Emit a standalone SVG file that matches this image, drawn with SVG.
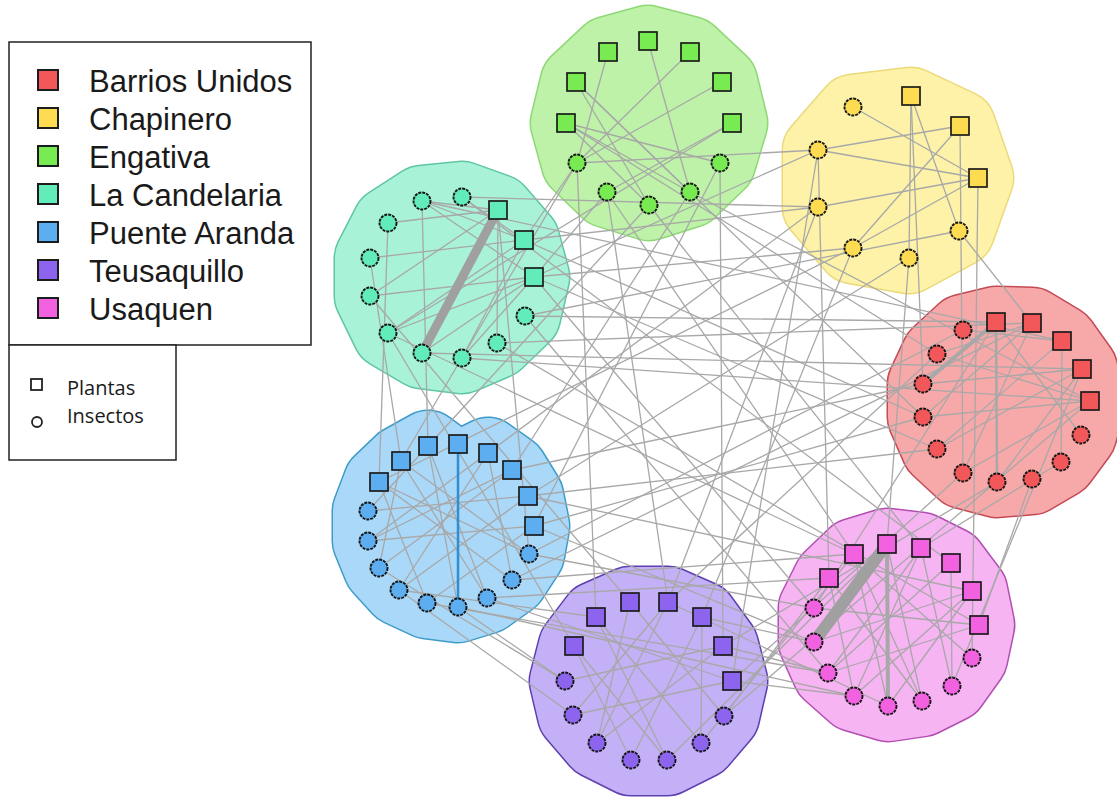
<svg xmlns="http://www.w3.org/2000/svg" width="1117" height="797" viewBox="0 0 1117 797">
<style>
.e{stroke:#a8a8a8;stroke-width:1.3;fill:none}
.hb{fill:none;stroke-width:73;stroke-linejoin:round}
.hf{stroke-width:70;stroke-linejoin:round}
.sq{stroke:#1c1c1c;stroke-width:1.7}
.ci{stroke:#151515;stroke-width:1.9;stroke-dasharray:3 1}
.red{fill:#f2585a}.yel{fill:#fddc52}.grn{fill:#78ea52}.tea{fill:#62ecba}.blu{fill:#5caef0}.pur{fill:#8c64ee}.pnk{fill:#f262e0}
.lg{font-family:"Liberation Sans",Arial,sans-serif;font-size:31px;fill:#1a1a1a}
.ls{font-family:"Open Sans","Liberation Sans",sans-serif;font-size:20px;fill:#1a1a1a}
.lsq{stroke:#1c1c1c;stroke-width:2}
</style>
<rect width="1117" height="797" fill="#ffffff"/>
<g id="hulls">
<g id="hull-engativa"><polygon class="hb" stroke="#8fd875" points="648,41 690,52 722,82 732,123 720,163 690,192 649,205 607,192 577,163 566,123 576,82 608,52"/><polygon class="hf" fill="#bdf2a8" stroke="#bdf2a8" points="648,41 690,52 722,82 732,123 720,163 690,192 649,205 607,192 577,163 566,123 576,82 608,52"/></g>
<g id="hull-chapinero"><polygon class="hb" stroke="#ecd97a" points="911,103 960,126 978,178 959,231 909,258 853,248 818,207 818,150 853,110"/><polygon class="hf" fill="#fdf2a8" stroke="#fdf2a8" points="911,103 960,126 978,178 959,231 909,258 853,248 818,207 818,150 853,110"/></g>
<g id="hull-candelaria"><polygon class="hb" stroke="#5fc6a4" points="422,201 462,197 498,210 524,240 534,277 525,316 497,343 462,358 422,353 388,333 370,296 370,258 388,223"/><polygon class="hf" fill="#a8f2d8" stroke="#a8f2d8" points="422,201 462,197 498,210 524,240 534,277 525,316 497,343 462,358 422,353 388,333 370,296 370,258 388,223"/></g>
<g id="hull-barrios"><polygon class="hb" stroke="#c44a55" points="996,322 1032,323 1062,341 1082,369 1090,401 1081,435 1061,462 1032,479 997,482 963,473 937,449 923,417 923,384 937,354 963,330"/><polygon class="hf" fill="#f7a9a9" stroke="#f7a9a9" points="996,322 1032,323 1062,341 1082,369 1090,401 1081,435 1061,462 1032,479 997,482 963,473 937,449 923,417 923,384 937,354 963,330"/></g>
<g id="hull-puente"><polygon class="hb" stroke="#3f9cc8" points="379,482 401,461 428,446 458,468 488,453 512,470 528,496 534,526 529,554 512,580 487,598 458,607 427,603 399,590 379,568 368,541 368,511"/><polygon class="hf" fill="#aad8f8" stroke="#aad8f8" points="379,482 401,461 428,446 458,468 488,453 512,470 528,496 534,526 529,554 512,580 487,598 458,607 427,603 399,590 379,568 368,541 368,511"/></g>
<g id="hull-usaquen"><polygon class="hb" stroke="#b14fb2" points="887,544 921,548 951,563 972,591 979,625 972,658 952,686 922,701 888,706 854,696 828,673 814,642 814,608 829,578 854,554"/><polygon class="hf" fill="#f6b4f2" stroke="#f6b4f2" points="887,544 921,548 951,563 972,591 979,625 972,658 952,686 922,701 888,706 854,696 828,673 814,642 814,608 829,578 854,554"/></g>
<g id="hull-teusaquillo"><polygon class="hb" stroke="#5e3fae" points="630,602 668,602 702,617 723,646 732,681 724,716 701,743 667,760 631,760 597,743 573,715 565,681 574,646 596,617"/><polygon class="hf" fill="#c4b0f6" stroke="#c4b0f6" points="630,602 668,602 702,617 723,646 732,681 724,716 701,743 667,760 631,760 597,743 573,715 565,681 574,646 596,617"/></g>
</g>
<g id="connectors">
<g class="e">
<line x1="577" y1="163" x2="818" y2="150"/>
<line x1="577" y1="163" x2="596" y2="617"/>
<line x1="720" y1="163" x2="723" y2="646"/>
<line x1="566" y1="123" x2="937" y2="354"/>
<line x1="732" y1="123" x2="388" y2="333"/>
<line x1="576" y1="82" x2="923" y2="417"/>
<line x1="607" y1="192" x2="854" y2="554"/>
<line x1="690" y1="192" x2="512" y2="470"/>
<line x1="649" y1="205" x2="921" y2="548"/>
<line x1="649" y1="205" x2="428" y2="446"/>
<line x1="577" y1="163" x2="401" y2="461"/>
<line x1="720" y1="163" x2="534" y2="526"/>
<line x1="690" y1="192" x2="1090" y2="401"/>
<line x1="607" y1="192" x2="668" y2="602"/>
<line x1="577" y1="163" x2="524" y2="240"/>
<line x1="607" y1="192" x2="534" y2="277"/>
<line x1="462" y1="197" x2="818" y2="207"/>
<line x1="818" y1="150" x2="829" y2="578"/>
<line x1="960" y1="126" x2="963" y2="473"/>
<line x1="818" y1="207" x2="488" y2="453"/>
<line x1="818" y1="207" x2="668" y2="602"/>
<line x1="853" y1="248" x2="702" y2="617"/>
<line x1="853" y1="248" x2="534" y2="277"/>
<line x1="909" y1="258" x2="887" y2="544"/>
<line x1="959" y1="231" x2="1032" y2="323"/>
<line x1="978" y1="178" x2="972" y2="658"/>
<line x1="959" y1="231" x2="525" y2="316"/>
<line x1="524" y1="240" x2="818" y2="207"/>
<line x1="534" y1="277" x2="818" y2="150"/>
<line x1="911" y1="96" x2="923" y2="384"/>
<line x1="909" y1="258" x2="528" y2="496"/>
<line x1="818" y1="150" x2="732" y2="681"/>
<line x1="853" y1="248" x2="379" y2="482"/>
<line x1="497" y1="343" x2="1032" y2="323"/>
<line x1="525" y1="316" x2="996" y2="322"/>
<line x1="422" y1="353" x2="1082" y2="369"/>
<line x1="462" y1="358" x2="1090" y2="401"/>
<line x1="388" y1="333" x2="854" y2="554"/>
<line x1="534" y1="277" x2="814" y2="608"/>
<line x1="370" y1="296" x2="630" y2="602"/>
<line x1="524" y1="240" x2="923" y2="417"/>
<line x1="422" y1="201" x2="428" y2="446"/>
<line x1="388" y1="223" x2="379" y2="482"/>
<line x1="370" y1="258" x2="401" y2="461"/>
<line x1="498" y1="210" x2="529" y2="554"/>
<line x1="388" y1="333" x2="574" y2="646"/>
<line x1="497" y1="343" x2="979" y2="625"/>
<line x1="534" y1="277" x2="937" y2="449"/>
<line x1="422" y1="201" x2="1062" y2="341"/>
<line x1="462" y1="197" x2="951" y2="563"/>
<line x1="525" y1="316" x2="828" y2="673"/>
<line x1="923" y1="417" x2="534" y2="526"/>
<line x1="937" y1="449" x2="528" y2="496"/>
<line x1="923" y1="384" x2="512" y2="470"/>
<line x1="963" y1="473" x2="732" y2="681"/>
<line x1="996" y1="322" x2="814" y2="608"/>
<line x1="1082" y1="369" x2="952" y2="686"/>
<line x1="937" y1="354" x2="668" y2="602"/>
<line x1="997" y1="482" x2="723" y2="646"/>
<line x1="1090" y1="401" x2="724" y2="716"/>
<line x1="1032" y1="479" x2="979" y2="625"/>
<line x1="963" y1="330" x2="529" y2="554"/>
<line x1="1032" y1="323" x2="512" y2="580"/>
<line x1="1061" y1="462" x2="921" y2="548"/>
<line x1="487" y1="598" x2="829" y2="578"/>
<line x1="512" y1="580" x2="854" y2="554"/>
<line x1="529" y1="554" x2="814" y2="608"/>
<line x1="427" y1="603" x2="828" y2="673"/>
<line x1="458" y1="607" x2="565" y2="681"/>
<line x1="399" y1="590" x2="596" y2="617"/>
<line x1="458" y1="607" x2="854" y2="696"/>
<line x1="534" y1="526" x2="814" y2="642"/>
<line x1="379" y1="568" x2="565" y2="681"/>
<line x1="399" y1="590" x2="573" y2="715"/>
<line x1="487" y1="598" x2="732" y2="681"/>
<line x1="528" y1="496" x2="972" y2="591"/>
<line x1="723" y1="646" x2="828" y2="673"/>
<line x1="732" y1="681" x2="854" y2="696"/>
<line x1="724" y1="716" x2="829" y2="578"/>
<line x1="701" y1="743" x2="854" y2="554"/>
<line x1="702" y1="617" x2="814" y2="642"/>
<line x1="667" y1="760" x2="887" y2="544"/>
<line x1="668" y1="602" x2="888" y2="706"/>
<line x1="608" y1="52" x2="577" y2="163"/>
<line x1="648" y1="41" x2="690" y2="192"/>
<line x1="690" y1="52" x2="577" y2="163"/>
<line x1="576" y1="82" x2="690" y2="192"/>
<line x1="722" y1="82" x2="577" y2="163"/>
<line x1="566" y1="123" x2="720" y2="163"/>
<line x1="566" y1="123" x2="690" y2="192"/>
<line x1="732" y1="123" x2="607" y2="192"/>
<line x1="576" y1="82" x2="649" y2="205"/>
<line x1="566" y1="123" x2="649" y2="205"/>
<line x1="911" y1="96" x2="909" y2="258"/>
<line x1="911" y1="96" x2="959" y2="231"/>
<line x1="960" y1="126" x2="818" y2="150"/>
<line x1="960" y1="126" x2="853" y2="248"/>
<line x1="978" y1="178" x2="818" y2="150"/>
<line x1="978" y1="178" x2="818" y2="207"/>
<line x1="978" y1="178" x2="853" y2="107"/>
<line x1="978" y1="178" x2="853" y2="248"/>
<line x1="498" y1="210" x2="422" y2="201"/>
<line x1="524" y1="240" x2="422" y2="201"/>
<line x1="534" y1="277" x2="422" y2="201"/>
<line x1="498" y1="210" x2="388" y2="223"/>
<line x1="524" y1="240" x2="370" y2="258"/>
<line x1="534" y1="277" x2="370" y2="296"/>
<line x1="524" y1="240" x2="388" y2="333"/>
<line x1="534" y1="277" x2="388" y2="333"/>
<line x1="498" y1="210" x2="497" y2="343"/>
<line x1="524" y1="240" x2="462" y2="358"/>
<line x1="534" y1="277" x2="422" y2="353"/>
<line x1="524" y1="240" x2="462" y2="197"/>
<line x1="498" y1="210" x2="370" y2="296"/>
<line x1="534" y1="277" x2="462" y2="358"/>
<line x1="1062" y1="341" x2="1061" y2="462"/>
<line x1="1032" y1="323" x2="937" y2="354"/>
<line x1="1032" y1="323" x2="923" y2="417"/>
<line x1="1082" y1="369" x2="923" y2="384"/>
<line x1="1082" y1="369" x2="937" y2="449"/>
<line x1="1090" y1="401" x2="923" y2="417"/>
<line x1="1090" y1="401" x2="963" y2="473"/>
<line x1="1062" y1="341" x2="963" y2="330"/>
<line x1="996" y1="322" x2="1081" y2="435"/>
<line x1="1082" y1="369" x2="997" y2="482"/>
<line x1="1090" y1="401" x2="937" y2="354"/>
<line x1="1032" y1="323" x2="963" y2="473"/>
<line x1="1062" y1="341" x2="937" y2="449"/>
<line x1="379" y1="482" x2="427" y2="603"/>
<line x1="379" y1="482" x2="512" y2="580"/>
<line x1="401" y1="461" x2="379" y2="568"/>
<line x1="401" y1="461" x2="529" y2="554"/>
<line x1="428" y1="446" x2="368" y2="511"/>
<line x1="428" y1="446" x2="487" y2="598"/>
<line x1="488" y1="453" x2="368" y2="541"/>
<line x1="488" y1="453" x2="399" y2="590"/>
<line x1="512" y1="470" x2="368" y2="541"/>
<line x1="512" y1="470" x2="379" y2="568"/>
<line x1="528" y1="496" x2="368" y2="511"/>
<line x1="528" y1="496" x2="399" y2="590"/>
<line x1="534" y1="526" x2="368" y2="541"/>
<line x1="534" y1="526" x2="427" y2="603"/>
<line x1="488" y1="453" x2="512" y2="580"/>
<line x1="401" y1="461" x2="487" y2="598"/>
<line x1="379" y1="482" x2="529" y2="554"/>
<line x1="428" y1="446" x2="458" y2="607"/>
<line x1="951" y1="563" x2="952" y2="686"/>
<line x1="829" y1="578" x2="854" y2="696"/>
<line x1="854" y1="554" x2="888" y2="706"/>
<line x1="854" y1="554" x2="922" y2="701"/>
<line x1="921" y1="548" x2="828" y2="673"/>
<line x1="921" y1="548" x2="854" y2="696"/>
<line x1="972" y1="591" x2="814" y2="642"/>
<line x1="972" y1="591" x2="854" y2="696"/>
<line x1="979" y1="625" x2="814" y2="608"/>
<line x1="979" y1="625" x2="828" y2="673"/>
<line x1="829" y1="578" x2="922" y2="701"/>
<line x1="921" y1="548" x2="952" y2="686"/>
<line x1="887" y1="544" x2="922" y2="701"/>
<line x1="951" y1="563" x2="828" y2="673"/>
<line x1="854" y1="554" x2="972" y2="658"/>
<line x1="972" y1="591" x2="888" y2="706"/>
<line x1="596" y1="617" x2="667" y2="760"/>
<line x1="574" y1="646" x2="631" y2="760"/>
<line x1="574" y1="646" x2="667" y2="760"/>
<line x1="630" y1="602" x2="597" y2="743"/>
<line x1="668" y1="602" x2="597" y2="743"/>
<line x1="668" y1="602" x2="573" y2="715"/>
<line x1="702" y1="617" x2="631" y2="760"/>
<line x1="702" y1="617" x2="701" y2="743"/>
<line x1="723" y1="646" x2="565" y2="681"/>
<line x1="732" y1="681" x2="573" y2="715"/>
<line x1="630" y1="602" x2="724" y2="716"/>
<line x1="723" y1="646" x2="597" y2="743"/>
<line x1="596" y1="617" x2="701" y2="743"/>
</g>
<line x1="996" y1="322" x2="997" y2="482" stroke="#a8a8a8" stroke-width="2.5"/>
<line x1="996" y1="322" x2="923" y2="384" stroke="#a8a8a8" stroke-width="4"/>
<line x1="887" y1="544" x2="888" y2="706" stroke="#a8a8a8" stroke-width="4"/>
<line x1="498" y1="210" x2="422" y2="353" stroke="#a0a0a0" stroke-width="9"/>
<line x1="814" y1="642" x2="887" y2="544" stroke="#a0a0a0" stroke-width="12"/>
<line x1="458" y1="444" x2="458" y2="607" stroke="#2f8fd2" stroke-width="2.5"/>
</g>
<g id="nodes">
<g id="Gs1"><rect class="sq grn" x="599" y="43" width="18" height="18"/></g>
<g id="Gs2"><rect class="sq grn" x="639" y="32" width="18" height="18"/></g>
<g id="Gs3"><rect class="sq grn" x="681" y="43" width="18" height="18"/></g>
<g id="Gs4"><rect class="sq grn" x="567" y="73" width="18" height="18"/></g>
<g id="Gs5"><rect class="sq grn" x="713" y="73" width="18" height="18"/></g>
<g id="Gs6"><rect class="sq grn" x="557" y="114" width="18" height="18"/></g>
<g id="Gs7"><rect class="sq grn" x="723" y="114" width="18" height="18"/></g>
<g id="Gc1"><circle class="ci grn" cx="577" cy="163" r="8.5"/></g>
<g id="Gc2"><circle class="ci grn" cx="720" cy="163" r="8.5"/></g>
<g id="Gc3"><circle class="ci grn" cx="607" cy="192" r="8.5"/></g>
<g id="Gc4"><circle class="ci grn" cx="690" cy="192" r="8.5"/></g>
<g id="Gc5"><circle class="ci grn" cx="649" cy="205" r="8.5"/></g>
<g id="Ys1"><rect class="sq yel" x="902" y="87" width="18" height="18"/></g>
<g id="Ys2"><rect class="sq yel" x="951" y="117" width="18" height="18"/></g>
<g id="Ys3"><rect class="sq yel" x="969" y="169" width="18" height="18"/></g>
<g id="Yc1"><circle class="ci yel" cx="853" cy="107" r="8.5"/></g>
<g id="Yc2"><circle class="ci yel" cx="818" cy="150" r="8.5"/></g>
<g id="Yc3"><circle class="ci yel" cx="818" cy="207" r="8.5"/></g>
<g id="Yc4"><circle class="ci yel" cx="853" cy="248" r="8.5"/></g>
<g id="Yc5"><circle class="ci yel" cx="909" cy="258" r="8.5"/></g>
<g id="Yc6"><circle class="ci yel" cx="959" cy="231" r="8.5"/></g>
<g id="Ts1"><rect class="sq tea" x="489" y="201" width="18" height="18"/></g>
<g id="Ts2"><rect class="sq tea" x="515" y="231" width="18" height="18"/></g>
<g id="Ts3"><rect class="sq tea" x="525" y="268" width="18" height="18"/></g>
<g id="Tc1"><circle class="ci tea" cx="422" cy="201" r="8.5"/></g>
<g id="Tc2"><circle class="ci tea" cx="462" cy="197" r="8.5"/></g>
<g id="Tc3"><circle class="ci tea" cx="388" cy="223" r="8.5"/></g>
<g id="Tc4"><circle class="ci tea" cx="370" cy="258" r="8.5"/></g>
<g id="Tc5"><circle class="ci tea" cx="370" cy="296" r="8.5"/></g>
<g id="Tc6"><circle class="ci tea" cx="388" cy="333" r="8.5"/></g>
<g id="Tc7"><circle class="ci tea" cx="422" cy="353" r="8.5"/></g>
<g id="Tc8"><circle class="ci tea" cx="462" cy="358" r="8.5"/></g>
<g id="Tc9"><circle class="ci tea" cx="497" cy="343" r="8.5"/></g>
<g id="Tc10"><circle class="ci tea" cx="525" cy="316" r="8.5"/></g>
<g id="Rs1"><rect class="sq red" x="987" y="313" width="18" height="18"/></g>
<g id="Rs2"><rect class="sq red" x="1023" y="314" width="18" height="18"/></g>
<g id="Rs3"><rect class="sq red" x="1053" y="332" width="18" height="18"/></g>
<g id="Rs4"><rect class="sq red" x="1073" y="360" width="18" height="18"/></g>
<g id="Rs5"><rect class="sq red" x="1081" y="392" width="18" height="18"/></g>
<g id="Rc1"><circle class="ci red" cx="963" cy="330" r="8.5"/></g>
<g id="Rc2"><circle class="ci red" cx="937" cy="354" r="8.5"/></g>
<g id="Rc3"><circle class="ci red" cx="923" cy="384" r="8.5"/></g>
<g id="Rc4"><circle class="ci red" cx="923" cy="417" r="8.5"/></g>
<g id="Rc5"><circle class="ci red" cx="937" cy="449" r="8.5"/></g>
<g id="Rc6"><circle class="ci red" cx="963" cy="473" r="8.5"/></g>
<g id="Rc7"><circle class="ci red" cx="997" cy="482" r="8.5"/></g>
<g id="Rc8"><circle class="ci red" cx="1032" cy="479" r="8.5"/></g>
<g id="Rc9"><circle class="ci red" cx="1061" cy="462" r="8.5"/></g>
<g id="Rc10"><circle class="ci red" cx="1081" cy="435" r="8.5"/></g>
<g id="Bs1"><rect class="sq blu" x="370" y="473" width="18" height="18"/></g>
<g id="Bs2"><rect class="sq blu" x="392" y="452" width="18" height="18"/></g>
<g id="Bs3"><rect class="sq blu" x="419" y="437" width="18" height="18"/></g>
<g id="Bs4"><rect class="sq blu" x="449" y="435" width="18" height="18"/></g>
<g id="Bs5"><rect class="sq blu" x="479" y="444" width="18" height="18"/></g>
<g id="Bs6"><rect class="sq blu" x="503" y="461" width="18" height="18"/></g>
<g id="Bs7"><rect class="sq blu" x="519" y="487" width="18" height="18"/></g>
<g id="Bs8"><rect class="sq blu" x="525" y="517" width="18" height="18"/></g>
<g id="Bc1"><circle class="ci blu" cx="368" cy="511" r="8.5"/></g>
<g id="Bc2"><circle class="ci blu" cx="368" cy="541" r="8.5"/></g>
<g id="Bc3"><circle class="ci blu" cx="379" cy="568" r="8.5"/></g>
<g id="Bc4"><circle class="ci blu" cx="399" cy="590" r="8.5"/></g>
<g id="Bc5"><circle class="ci blu" cx="427" cy="603" r="8.5"/></g>
<g id="Bc6"><circle class="ci blu" cx="458" cy="607" r="8.5"/></g>
<g id="Bc7"><circle class="ci blu" cx="487" cy="598" r="8.5"/></g>
<g id="Bc8"><circle class="ci blu" cx="512" cy="580" r="8.5"/></g>
<g id="Bc9"><circle class="ci blu" cx="529" cy="554" r="8.5"/></g>
<g id="Ps1"><rect class="sq pnk" x="820" y="569" width="18" height="18"/></g>
<g id="Ps2"><rect class="sq pnk" x="845" y="545" width="18" height="18"/></g>
<g id="Ps3"><rect class="sq pnk" x="878" y="535" width="18" height="18"/></g>
<g id="Ps4"><rect class="sq pnk" x="912" y="539" width="18" height="18"/></g>
<g id="Ps5"><rect class="sq pnk" x="942" y="554" width="18" height="18"/></g>
<g id="Ps6"><rect class="sq pnk" x="963" y="582" width="18" height="18"/></g>
<g id="Ps7"><rect class="sq pnk" x="970" y="616" width="18" height="18"/></g>
<g id="Pc1"><circle class="ci pnk" cx="814" cy="608" r="8.5"/></g>
<g id="Pc2"><circle class="ci pnk" cx="814" cy="642" r="8.5"/></g>
<g id="Pc3"><circle class="ci pnk" cx="828" cy="673" r="8.5"/></g>
<g id="Pc4"><circle class="ci pnk" cx="854" cy="696" r="8.5"/></g>
<g id="Pc5"><circle class="ci pnk" cx="888" cy="706" r="8.5"/></g>
<g id="Pc6"><circle class="ci pnk" cx="922" cy="701" r="8.5"/></g>
<g id="Pc7"><circle class="ci pnk" cx="952" cy="686" r="8.5"/></g>
<g id="Pc8"><circle class="ci pnk" cx="972" cy="658" r="8.5"/></g>
<g id="Us1"><rect class="sq pur" x="621" y="593" width="18" height="18"/></g>
<g id="Us2"><rect class="sq pur" x="659" y="593" width="18" height="18"/></g>
<g id="Us3"><rect class="sq pur" x="587" y="608" width="18" height="18"/></g>
<g id="Us4"><rect class="sq pur" x="693" y="608" width="18" height="18"/></g>
<g id="Us5"><rect class="sq pur" x="565" y="637" width="18" height="18"/></g>
<g id="Us6"><rect class="sq pur" x="714" y="637" width="18" height="18"/></g>
<g id="Us7"><rect class="sq pur" x="723" y="672" width="18" height="18"/></g>
<g id="Uc1"><circle class="ci pur" cx="565" cy="681" r="8.5"/></g>
<g id="Uc2"><circle class="ci pur" cx="573" cy="715" r="8.5"/></g>
<g id="Uc3"><circle class="ci pur" cx="597" cy="743" r="8.5"/></g>
<g id="Uc4"><circle class="ci pur" cx="631" cy="760" r="8.5"/></g>
<g id="Uc5"><circle class="ci pur" cx="667" cy="760" r="8.5"/></g>
<g id="Uc6"><circle class="ci pur" cx="701" cy="743" r="8.5"/></g>
<g id="Uc7"><circle class="ci pur" cx="724" cy="716" r="8.5"/></g>
</g>
<g id="legend">
<rect x="9" y="42" width="302" height="303" fill="#ffffff" stroke="#222" stroke-width="1.5"/>
<rect x="9" y="345" width="167" height="115" fill="#ffffff" stroke="#222" stroke-width="1.5"/>
<rect class="lsq red" x="38" y="70" width="20" height="20"/>
<rect class="lsq yel" x="38" y="108" width="20" height="20"/>
<rect class="lsq grn" x="38" y="146" width="20" height="20"/>
<rect class="lsq tea" x="38" y="184" width="20" height="20"/>
<rect class="lsq blu" x="38" y="222" width="20" height="20"/>
<rect class="lsq pur" x="38" y="260" width="20" height="20"/>
<rect class="lsq pnk" x="38" y="298" width="20" height="20"/>
<text class="lg" x="89" y="92">Barrios Unidos</text>
<text class="lg" x="89" y="130">Chapinero</text>
<text class="lg" x="89" y="168">Engativa</text>
<text class="lg" x="89" y="206">La Candelaria</text>
<text class="lg" x="89" y="244">Puente Aranda</text>
<text class="lg" x="89" y="282">Teusaquillo</text>
<text class="lg" x="89" y="320">Usaquen</text>
<rect x="31" y="379" width="11" height="11" fill="none" stroke="#222" stroke-width="1.8"/>
<circle cx="37" cy="422" r="5" fill="none" stroke="#222" stroke-width="1.8"/>
<text class="ls" x="67" y="395">Plantas</text>
<text class="ls" x="67" y="423">Insectos</text>
</g>
</svg>
